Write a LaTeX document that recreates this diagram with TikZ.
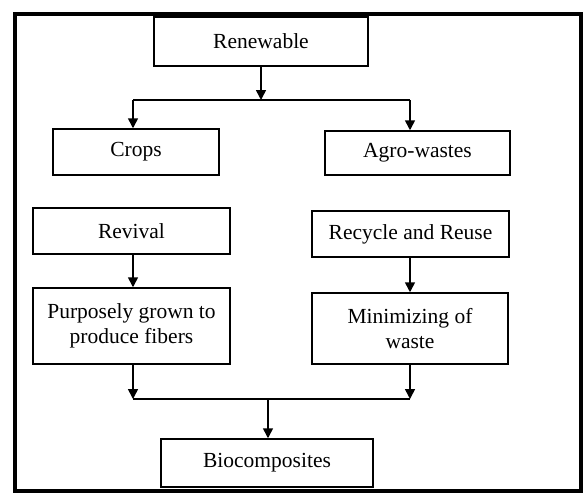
\documentclass[tikz,border=0pt]{standalone}
\usepackage{fontspec}
\setmainfont{Liberation Serif}
\usetikzlibrary{arrows.meta}

\tikzset{
  box/.style={draw, line width=1.5pt, align=center, inner sep=0pt, font=\fontsize{21.5}{25}\selectfont},
  arr/.style={line width=1.6pt, -{Triangle[length=10pt, width=10pt]}},
  link/.style={line width=1.6pt}
}

\begin{document}
\begin{tikzpicture}[x=1pt, y=-1pt]
        \useasboundingbox (0, 0) rectangle (585, 495);
        \fill[white] (0, 0) rectangle (585, 495);
        \draw[line width=4pt] (15, 14) rectangle (581, 491);

        % boxes
        \node[box, minimum width=214pt, minimum height=49pt] (renew) at (261, 41.5) {Renewable};
        \node[box, minimum width=166pt, minimum height=46pt] (crops) at (136, 152) {Crops};
        \node[box, minimum width=185pt, minimum height=44pt] (agro) at (417.5, 153) {Agro-wastes};
        \node[box, minimum width=197pt, minimum height=46pt] (revival) at (131.5, 231) {Revival};
        \node[box, minimum width=197pt, minimum height=46pt] (recycle) at (410.5, 234) {Recycle and Reuse};
        \node[box, minimum width=197pt, minimum height=76pt] (grown) at (131.5, 326) {Purposely grown to\\produce fibers};
        \node[box, minimum width=196pt, minimum height=71pt] (minim) at (410, 328.5) {Minimizing of\\waste};
        \node[box, minimum width=212pt, minimum height=48pt] (bio) at (267, 463) {Biocomposites};

        % connectors
        \coordinate (top) at (261, 100);
        \coordinate (topl) at (133, 100);
        \coordinate (topr) at (410, 100);
        \coordinate (low) at (268, 399);
        \coordinate (lowl) at (133, 399);
        \coordinate (lowr) at (410, 399);

        \draw[arr] (renew.south) -- (top);
        \draw[link] (topl) -- (topr);
        \draw[arr] (topl) -- (topl |- crops.north);
        \draw[arr] (topr) -- (topr |- agro.north);
        \draw[arr] (revival.south -| topl) -- (topl |- grown.north);
        \draw[arr] (recycle.south -| topr) -- (topr |- minim.north);
        \draw[arr] (grown.south -| lowl) -- (lowl);
        \draw[arr] (minim.south -| lowr) -- (lowr);
        \draw[link] (lowl) -- (lowr);
        \draw[arr] (low) -- (low |- bio.north);
      \end{tikzpicture}
\end{document}
